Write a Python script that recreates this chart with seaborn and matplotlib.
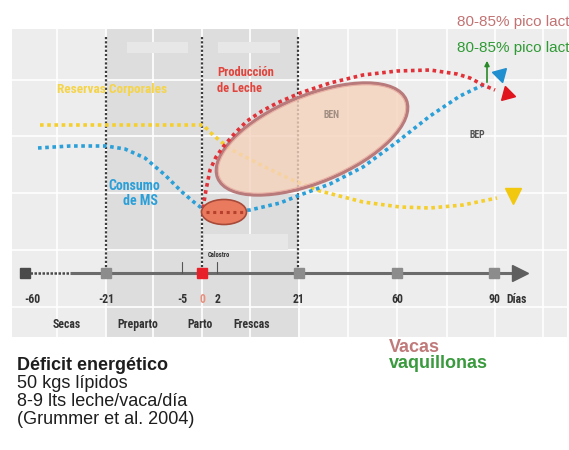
import matplotlib
matplotlib.use("Agg")
import matplotlib.pyplot as plt
from matplotlib import font_manager
from matplotlib.patches import Ellipse, Rectangle
import seaborn as sns

# ---- curves of the transition-period diagram (timeline position, level; screen units) ----
reservas_x = [40, 80, 120, 160, 203, 213, 230, 263, 290, 320, 363, 400, 430, 463, 497]
reservas_y = [125, 125, 125, 125, 125, 135, 149, 166, 179, 191, 202, 207, 208, 205, 198]

consumo_x = [38, 70, 106, 125, 145, 165, 182, 195, 203, 215, 250, 280, 300, 330, 363, 397, 430, 460, 487]
consumo_y = [148, 146, 146, 149, 158, 175, 192, 203, 209, 212, 210, 203, 195, 184, 167, 142, 116, 96, 83]

leche_x = [203, 206, 210, 216, 223, 235, 247, 262, 277, 300, 330, 363, 397, 430, 457, 470, 483, 495]
leche_y = [208, 190, 170, 157, 147, 133, 121, 111, 103, 93, 83, 75, 71, 70, 74, 78, 85, 90]

# arrow heads at the end of each curve
heads_x = [513, 500, 507]
heads_y = [196, 74, 94]

# timeline
day_labels = ["-60", "-21", "-5", "0", "2", "21", "60", "90"]
day_pos = [32, 106, 182, 202, 218, 299, 397, 494]
stage_labels = ["Secas", "Preparto", "Parto", "Frescas"]
stage_pos = [67, 138, 200, 252]

C_YEL = "#f5cf2e"
C_BLUE = "#2b9fd8"
C_RED = "#e03238"
C_DARK = "#333333"

sns.set_style("darkgrid", {"axes.facecolor": "#ededed", "grid.color": "white"})
names = {f.name for f in font_manager.fontManager.ttflist}
NARROW = next((n for n in ["Liberation Sans Narrow", "DejaVu Sans Condensed",
                           "Roboto Condensed", "Open Sans Condensed", "Liberation Sans"]
               if n in names), "DejaVu Sans")
NARROW_SCALE = 1.0 if NARROW != "Liberation Sans" else 0.9
plt.rcParams["font.family"] = ["Liberation Sans", "DejaVu Sans"]


def fs(size):
    return size * NARROW_SCALE


fig = plt.figure(figsize=(5.69, 4.5), dpi=100)
fig.patch.set_facecolor("white")

# panel in screen units (1 unit = 1 pixel)
L, R, T, B = 11, 567, 28, 337
ax = fig.add_axes([L / 569, (450 - B) / 450, (R - L) / 569, (B - T) / 450])
ax.set_xlim(L, R)
ax.set_ylim(B, T)
ax.set_xticks([57, 106, 153, 202, 250, 299, 348, 397, 447, 495, 543])
ax.set_yticks([80, 136, 193, 250, 307])
ax.tick_params(labelbottom=False, labelleft=False, length=0)
ax.grid(True, color="white", lw=1.2)
ax.set_xlabel("")
ax.set_ylabel("")

# shaded transition period
ax.axvspan(106, 298, color="#dddddd", zorder=0.3, lw=0)
for (x0, x1, y0, y1) in [(127, 188, 42, 53), (218, 280, 42, 53), (204, 288, 234, 250)]:
    ax.add_patch(Rectangle((x0, y0), x1 - x0, y1 - y0, color="#e7e7e7", lw=0, zorder=0.6))

# period boundaries
for xv in (106, 202, 298):
    ax.plot([xv, xv], [37, 273], color="#3c3c3c", lw=1.6, linestyle=(0, (1, 0.9)), zorder=1.5)

dots = (0, (1, 1))
sns.lineplot(x=reservas_x, y=reservas_y, sort=False, estimator=None, ax=ax,
             color=C_YEL, lw=2.6, linestyle=dots, zorder=2)

# negative energy balance area
ax.add_patch(Ellipse((312, 139), 204, 87, angle=-22.5, facecolor="#f6d3bd", alpha=0.8,
                     edgecolor="none", zorder=3))
ax.add_patch(Ellipse((312, 139), 204, 87, angle=-22.5, facecolor="none",
                     edgecolor="#b87a7a", lw=2.4, zorder=3.1))
ax.add_patch(Ellipse((312, 139), 200, 83, angle=-22.5, facecolor="none",
                     edgecolor="#e9b0a4", lw=0.8, zorder=3.2))

sns.lineplot(x=consumo_x, y=consumo_y, sort=False, estimator=None, ax=ax,
             color=C_BLUE, lw=2.6, linestyle=dots, zorder=4)
sns.lineplot(x=leche_x, y=leche_y, sort=False, estimator=None, ax=ax,
             color=C_RED, lw=2.6, linestyle=dots, zorder=4.2)

ax.plot(heads_x[0], heads_y[0], marker="v", ms=12, color="#f2c80f", zorder=5)
ax.plot(heads_x[1], heads_y[1], marker=(3, 0, 195), ms=12, color="#1f8fd0", zorder=5)
ax.plot(heads_x[2], heads_y[2], marker=(3, 0, 15), ms=12, color="#e0141c", zorder=5)

# calving point
ax.add_patch(Ellipse((224, 212), 45, 25, facecolor="#ea7a5e", edgecolor="#a84a3a",
                     lw=1.2, zorder=5))
ax.plot([206, 243], [212, 212], color="#b5402e", lw=2.2, linestyle=(0, (1, 1.2)), zorder=5.5)

ax.annotate("", xy=(487, 58), xytext=(487, 85),
            arrowprops=dict(arrowstyle="-|>", color="#2a8a2a", lw=1.2, mutation_scale=7),
            zorder=6)

# timeline
ax.plot([30, 70], [273, 273], color="#4a4a4a", lw=1.8, linestyle=(0, (1, 0.6)), zorder=4)
ax.plot([70, 516], [273, 273], color="#6b6b6b", lw=2.2, zorder=4, solid_capstyle="butt")
ax.plot(520, 273, marker=">", ms=11, color="#5e5e5e", zorder=4.5)
for xt in (182, 217):
    ax.plot([xt, xt], [262, 273], color="#555555", lw=0.8, zorder=4)
ax.plot(day_pos[0] - 7, 273, marker="s", ms=6.5, color="#4a4a4a", zorder=5)
for i in (1, 5, 6, 7):
    ax.plot(day_pos[i], 273, marker="s", ms=7.5, color="#8c8c8c", zorder=5)
ax.plot(day_pos[3], 273, marker="s", ms=7, color="#e8202a", zorder=5)

for lab, xp in zip(day_labels, day_pos):
    ax.text(xp, 298, lab, ha="center", va="center_baseline", fontsize=fs(8.5),
            fontweight="bold", family=NARROW,
            color="#e8907e" if lab == "0" else C_DARK, zorder=6)
ax.text(517, 298, "Días", ha="center", va="center_baseline", fontsize=fs(8.5),
        fontweight="bold", family=NARROW, color=C_DARK)
ax.text(208, 255, "Calostro", ha="left", va="center", fontsize=fs(4.8), fontweight="bold",
        family=NARROW, color=C_DARK)
for lab, xp in zip(stage_labels, stage_pos):
    ax.text(xp, 323, lab, ha="center", va="center_baseline", fontsize=fs(8.5),
            fontweight="bold", family=NARROW, color=C_DARK)

# curve labels
ax.text(112, 89, "Reservas Corporales", ha="center", va="center", fontsize=fs(9.5),
        fontweight="bold", family=NARROW, color="#f5d448", zorder=6)
ax.text(217, 73, "Producción", ha="left", va="center", fontsize=fs(9), fontweight="bold",
        family=NARROW, color="#e0443c", zorder=6)
ax.text(217, 89, "de Leche", ha="left", va="center", fontsize=fs(9), fontweight="bold",
        family=NARROW, color="#e0443c", zorder=6)
ax.text(134, 186, "Consumo", ha="center", va="center", fontsize=fs(10), fontweight="bold",
        family=NARROW, color=C_BLUE, zorder=6)
ax.text(140, 201, "de MS", ha="center", va="center", fontsize=fs(10), fontweight="bold",
        family=NARROW, color=C_BLUE, zorder=6)
ax.text(332, 115, "BEN", ha="center", va="center", fontsize=fs(7), fontweight="bold",
        family=NARROW, color="#a08e82", zorder=6)
ax.text(477, 135, "BEP", ha="center", va="center", fontsize=fs(7), fontweight="bold",
        family=NARROW, color="#555555", zorder=6)

# peak-lactation notes (top right)
fig.text(457 / 569, 1 - 22 / 450, "80-85% pico lact", ha="left", va="center",
         fontsize=11, color="#c27272")
fig.text(457 / 569, 1 - 48 / 450, "80-85% pico lact", ha="left", va="center",
         fontsize=11, color="#2f9a35")

# notes below the panel
fig.text(17 / 569, 1 - 366 / 450, "Déficit energético", ha="left", va="center",
         fontsize=13, fontweight="bold", color="#1e1e1e")
for txt, yp in [("50 kgs lípidos", 384), ("8-9 lts leche/vaca/día", 402),
                ("(Grummer et al. 2004)", 420)]:
    fig.text(17 / 569, 1 - yp / 450, txt, ha="left", va="center", fontsize=13,
             color="#1e1e1e")
fig.text(389 / 569, 1 - 347 / 450, "Vacas", ha="left", va="center", fontsize=13,
         fontweight="bold", color="#c07a7a")
fig.text(389 / 569, 1 - 364 / 450, "vaquillonas", ha="left", va="center", fontsize=13,
         fontweight="bold", color="#3a9a3e")

fig.savefig("out.png", dpi=100)
